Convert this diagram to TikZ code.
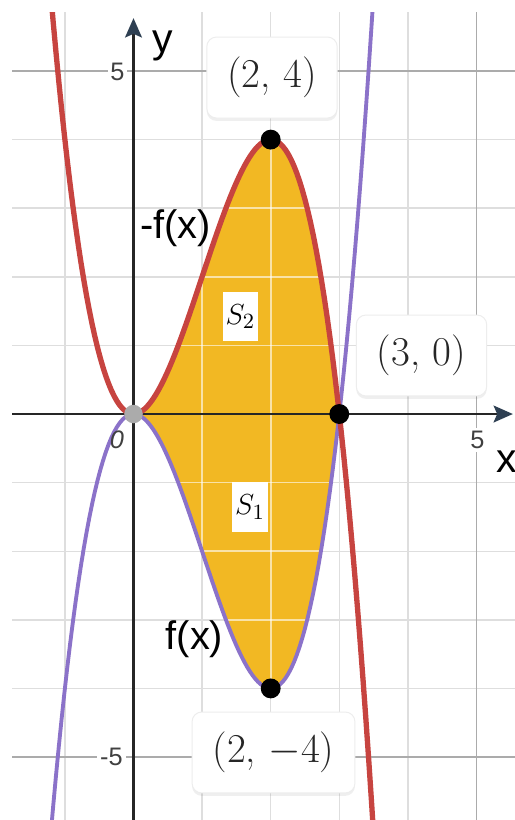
\documentclass[tikz,border=0pt]{standalone}
\usepackage{fontspec}
\newfontfamily\labelfont{Liberation Sans}
\usetikzlibrary{arrows.meta,shadows}

\definecolor{curvered}{HTML}{C74440}
\definecolor{curvepurple}{HTML}{8B72C9}
\definecolor{areagold}{HTML}{F2B823}
\definecolor{gridgray}{HTML}{DEDEDE}
\definecolor{majorgray}{HTML}{ABABAB}
\definecolor{axisnavy}{HTML}{2E3F52}

\begin{document}
\begin{tikzpicture}[
    pointbox/.style={draw=black!7, fill=white, rounded corners=4pt,
        drop shadow={opacity=0.12, shadow xshift=0pt, shadow yshift=-1.2pt},
        inner xsep=0.3cm, minimum height=1.18cm, text=black!85, font=\fontsize{17}{20}\selectfont},
    areabox/.style={fill=white, inner sep=0pt, minimum width=0.52cm, minimum height=0.72cm,
        font=\fontsize{12.5}{14}\selectfont},
    ticklabel/.style={fill=white, inner sep=1.2pt, text=black!75, font=\labelfont\fontsize{10.5}{12}\selectfont},
    curvelabel/.style={inner sep=0pt, font=\labelfont\fontsize{16.5}{20}\selectfont},
    ptdot/.style={circle, fill=black, inner sep=0pt, minimum size=0.29cm}
]

    \useasboundingbox (-1.946,-5.918) rectangle (5.561,6.035);
    \fill[white] (-1.946,-5.918) rectangle (5.561,6.035);

    % grid
    \begin{scope}
    \clip (-1.77,-5.918) rectangle (5.561,5.86);
    \foreach \x in {-1,1,2,3,4}
        \draw[gridgray, line width=0.6pt] (\x,-6) -- (\x,6);
    \foreach \y in {-4,-3,-2,-1,1,2,3,4}
        \draw[gridgray, line width=0.6pt] (-2,\y) -- (6,\y);
    \draw[majorgray, line width=0.7pt] (5,-6) -- (5,6);
    \draw[majorgray, line width=0.7pt] (-2,5) -- (6,5);
    \draw[majorgray, line width=0.7pt] (-2,-5) -- (6,-5);
    \end{scope}

    % area between the curves
    \fill[areagold] plot[domain=0:3, samples=60] (\x,{3*\x*\x-\x*\x*\x})
        -- plot[domain=3:0, samples=60] (\x,{\x*\x*\x-3*\x*\x}) -- cycle;

    \begin{scope}
    \clip plot[domain=0:3, samples=60] (\x,{3*\x*\x-\x*\x*\x})
        -- plot[domain=3:0, samples=60] (\x,{\x*\x*\x-3*\x*\x}) -- cycle;
    \foreach \x in {1,2}
        \draw[white, opacity=0.6, line width=0.7pt] (\x,-5) -- (\x,5);
    \foreach \y in {-3,-2,-1,1,2,3}
        \draw[white, opacity=0.6, line width=0.7pt] (-1,\y) -- (4,\y);
    \end{scope}

    % axes
    \draw[black!85, line width=0.9pt, -{Stealth[length=8pt, width=7pt, inset=1.5pt, color=axisnavy]}]
        (-1.77,0) -- (5.53,0);
    \draw[black!85, line width=0.9pt, -{Stealth[length=8pt, width=7pt, inset=1.5pt, color=axisnavy]}]
        (0,-5.918) -- (0,5.77);

    % curves
    \begin{scope}
    \clip (-1.77,-5.918) rectangle (5.561,5.86);
    \draw[curvepurple, line width=1.6pt] plot[domain=-1.25:3.55, samples=120] (\x,{\x*\x*\x-3*\x*\x});
    \draw[curvered, line width=2.2pt] plot[domain=-1.25:3.55, samples=120] (\x,{3*\x*\x-\x*\x*\x});
    \end{scope}

    \node[ptdot, fill=black!33, minimum size=0.27cm] (origin) at (0,0) {};
    \node[ptdot] (top) at (2,4) {};
    \node[ptdot] (root) at (3,0) {};
    \node[ptdot] (bottom) at (2,-4) {};

    % labels
    \node[ticklabel] (ytick5) at (-0.233,4.993) {5};
    \node[ticklabel] (ytickm5) at (-0.321,-5.0) {-5};
    \node[ticklabel, fill=none] (zero) at (-0.24,-0.379) {\itshape 0};
    \node[ticklabel] (xtick5) at (5.015,-0.379) {5};
    \node[curvelabel, font=\labelfont\fontsize{17}{20}\selectfont] (ylab) at (0.43,5.36) {y};
    \node[curvelabel, font=\labelfont\fontsize{17}{20}\selectfont] (xlab) at (5.445,-0.70) {x};

    \node[curvelabel] (minusf) at (0.612,2.711) {-f(x)};
    \node[curvelabel] (plusf) at (0.889,-3.28) {f(x)};

    \node[areabox] (s2) at (1.559,1.421) {$S_2$};
    \node[areabox] (s1) at (1.698,-1.356) {$S_1$};

    \node[pointbox] (topbox) at (2.019,4.905) {(2, 4)};
    \node[pointbox] (rootbox) at (4.198,0.853) {(3, 0)};
    \node[pointbox] (bottombox) at (2.041,-4.934) {(2, $-$4)};

\end{tikzpicture}
\end{document}
